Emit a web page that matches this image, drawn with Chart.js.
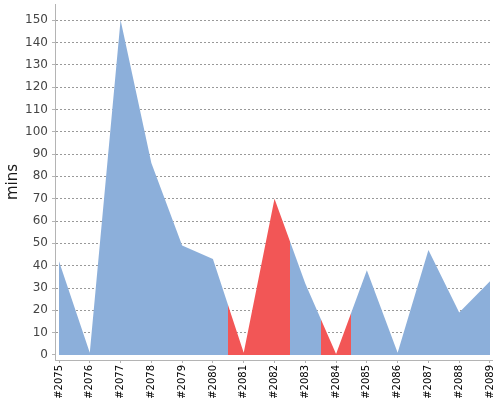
<!DOCTYPE html>
<html>
<head>
<meta charset="utf-8">
<script src="https://cdn.jsdelivr.net/npm/chart.js@4.4.1/dist/chart.umd.min.js"></script>
<style>
  html, body { margin: 0; padding: 0; background: #ffffff; }
  #wrap { width: 500px; height: 400px; }
</style>
</head>
<body>
<div id="wrap"><canvas id="c" width="500" height="400"></canvas></div>
<script>
const builds = ['#2075','#2076','#2077','#2078','#2079','#2080','#2081','#2082','#2083','#2084','#2085','#2086','#2087','#2088','#2089'];
const durations = [42, 1, 150, 86, 49, 43, 1, 70, 32, 0.5, 38, 1, 47, 19, 33];
const failedBuilds = ['#2081', '#2082', '#2084'];

const okColor = '#8cafda';
const failColor = '#f25656';

const points = durations.map((v, i) => ({ x: i, y: v }));
const failedIdx = builds.map((b, i) => failedBuilds.includes(b) ? i : -1).filter(i => i >= 0);

function statusFill(context) {
  const chart = context.chart;
  const xs = chart.scales && chart.scales.x;
  if (!chart.chartArea || !xs) return okColor;
  const L = xs.left, R = xs.right, W = R - L;
  const g = chart.ctx.createLinearGradient(L, 0, R, 0);
  const clamp = v => Math.min(1, Math.max(0, v));
  g.addColorStop(0, okColor);
  failedIdx.forEach(i => {
    const a = clamp((xs.getPixelForValue(i - 0.5) - L) / W);
    const b = clamp((xs.getPixelForValue(i + 0.5) - L) / W);
    g.addColorStop(a, okColor);
    g.addColorStop(a, failColor);
    g.addColorStop(b, failColor);
    g.addColorStop(b, okColor);
  });
  g.addColorStop(1, okColor);
  return g;
}

const bgPlugin = {
  id: 'bg',
  beforeDraw(chart) {
    const ctx = chart.ctx;
    ctx.save();
    ctx.fillStyle = '#ffffff';
    ctx.fillRect(0, 0, chart.width, chart.height);
    ctx.restore();
  }
};

new Chart(document.getElementById('c'), {
  type: 'line',
  data: {
    datasets: [
      { label: 'duration', data: points, fill: 'origin', backgroundColor: statusFill, borderWidth: 0, borderColor: 'rgba(0,0,0,0)', pointRadius: 0, tension: 0 }
    ]
  },
  options: {
    responsive: false,
    animation: false,
    devicePixelRatio: 1,
    layout: { padding: { top: 4, right: 8, left: 0, bottom: 0 } },
    plugins: { legend: { display: false }, tooltip: { enabled: false } },
    scales: {
      x: {
        type: 'linear',
        min: -0.13,
        max: 14.065,
        z: 1,
        afterFit(s) { s.height = 40; s.paddingLeft = 0; s.paddingRight = 0; },
        border: { display: true, color: '#b4b4b4', width: 1 },
        grid: { drawOnChartArea: false, drawTicks: true, tickLength: 3, tickColor: '#b4b4b4' },
        ticks: {
          stepSize: 1,
          includeBounds: false,
          autoSkip: false,
          maxRotation: 90,
          minRotation: 90,
          padding: 2,
          color: '#000000',
          font: { family: 'DejaVu Sans', size: 10 },
          callback: (v) => Number.isInteger(v) && builds[v] !== undefined ? builds[v] : ''
        }
      },
      y: {
        min: -2.24,
        max: 157.2,
        z: 1,
        afterFit(s) { s.width = 55; s.paddingTop = 0; s.paddingBottom = 0; },
        border: { display: true, color: '#b4b4b4', width: 1, dash: [2, 2] },
        grid: {
          drawOnChartArea: true,
          drawTicks: true,
          tickLength: 3,
          tickColor: '#b4b4b4',
          tickBorderDash: [],
          color: (ctx) => (ctx.tick && ctx.tick.value === 0) ? 'rgba(0,0,0,0)' : 'rgba(0,0,0,0.4)',
          lineWidth: 1
        },
        ticks: {
          stepSize: 10,
          includeBounds: false,
          padding: 4,
          color: '#444444',
          font: { family: 'DejaVu Sans', size: 12 }
        },
        title: {
          display: true,
          text: 'mins',
          color: '#1a1a1a',
          font: { family: 'DejaVu Sans', size: 15 },
          padding: { top: 4, bottom: 4 }
        }
      }
    }
  },
  plugins: [bgPlugin]
});
</script>
</body>
</html>
